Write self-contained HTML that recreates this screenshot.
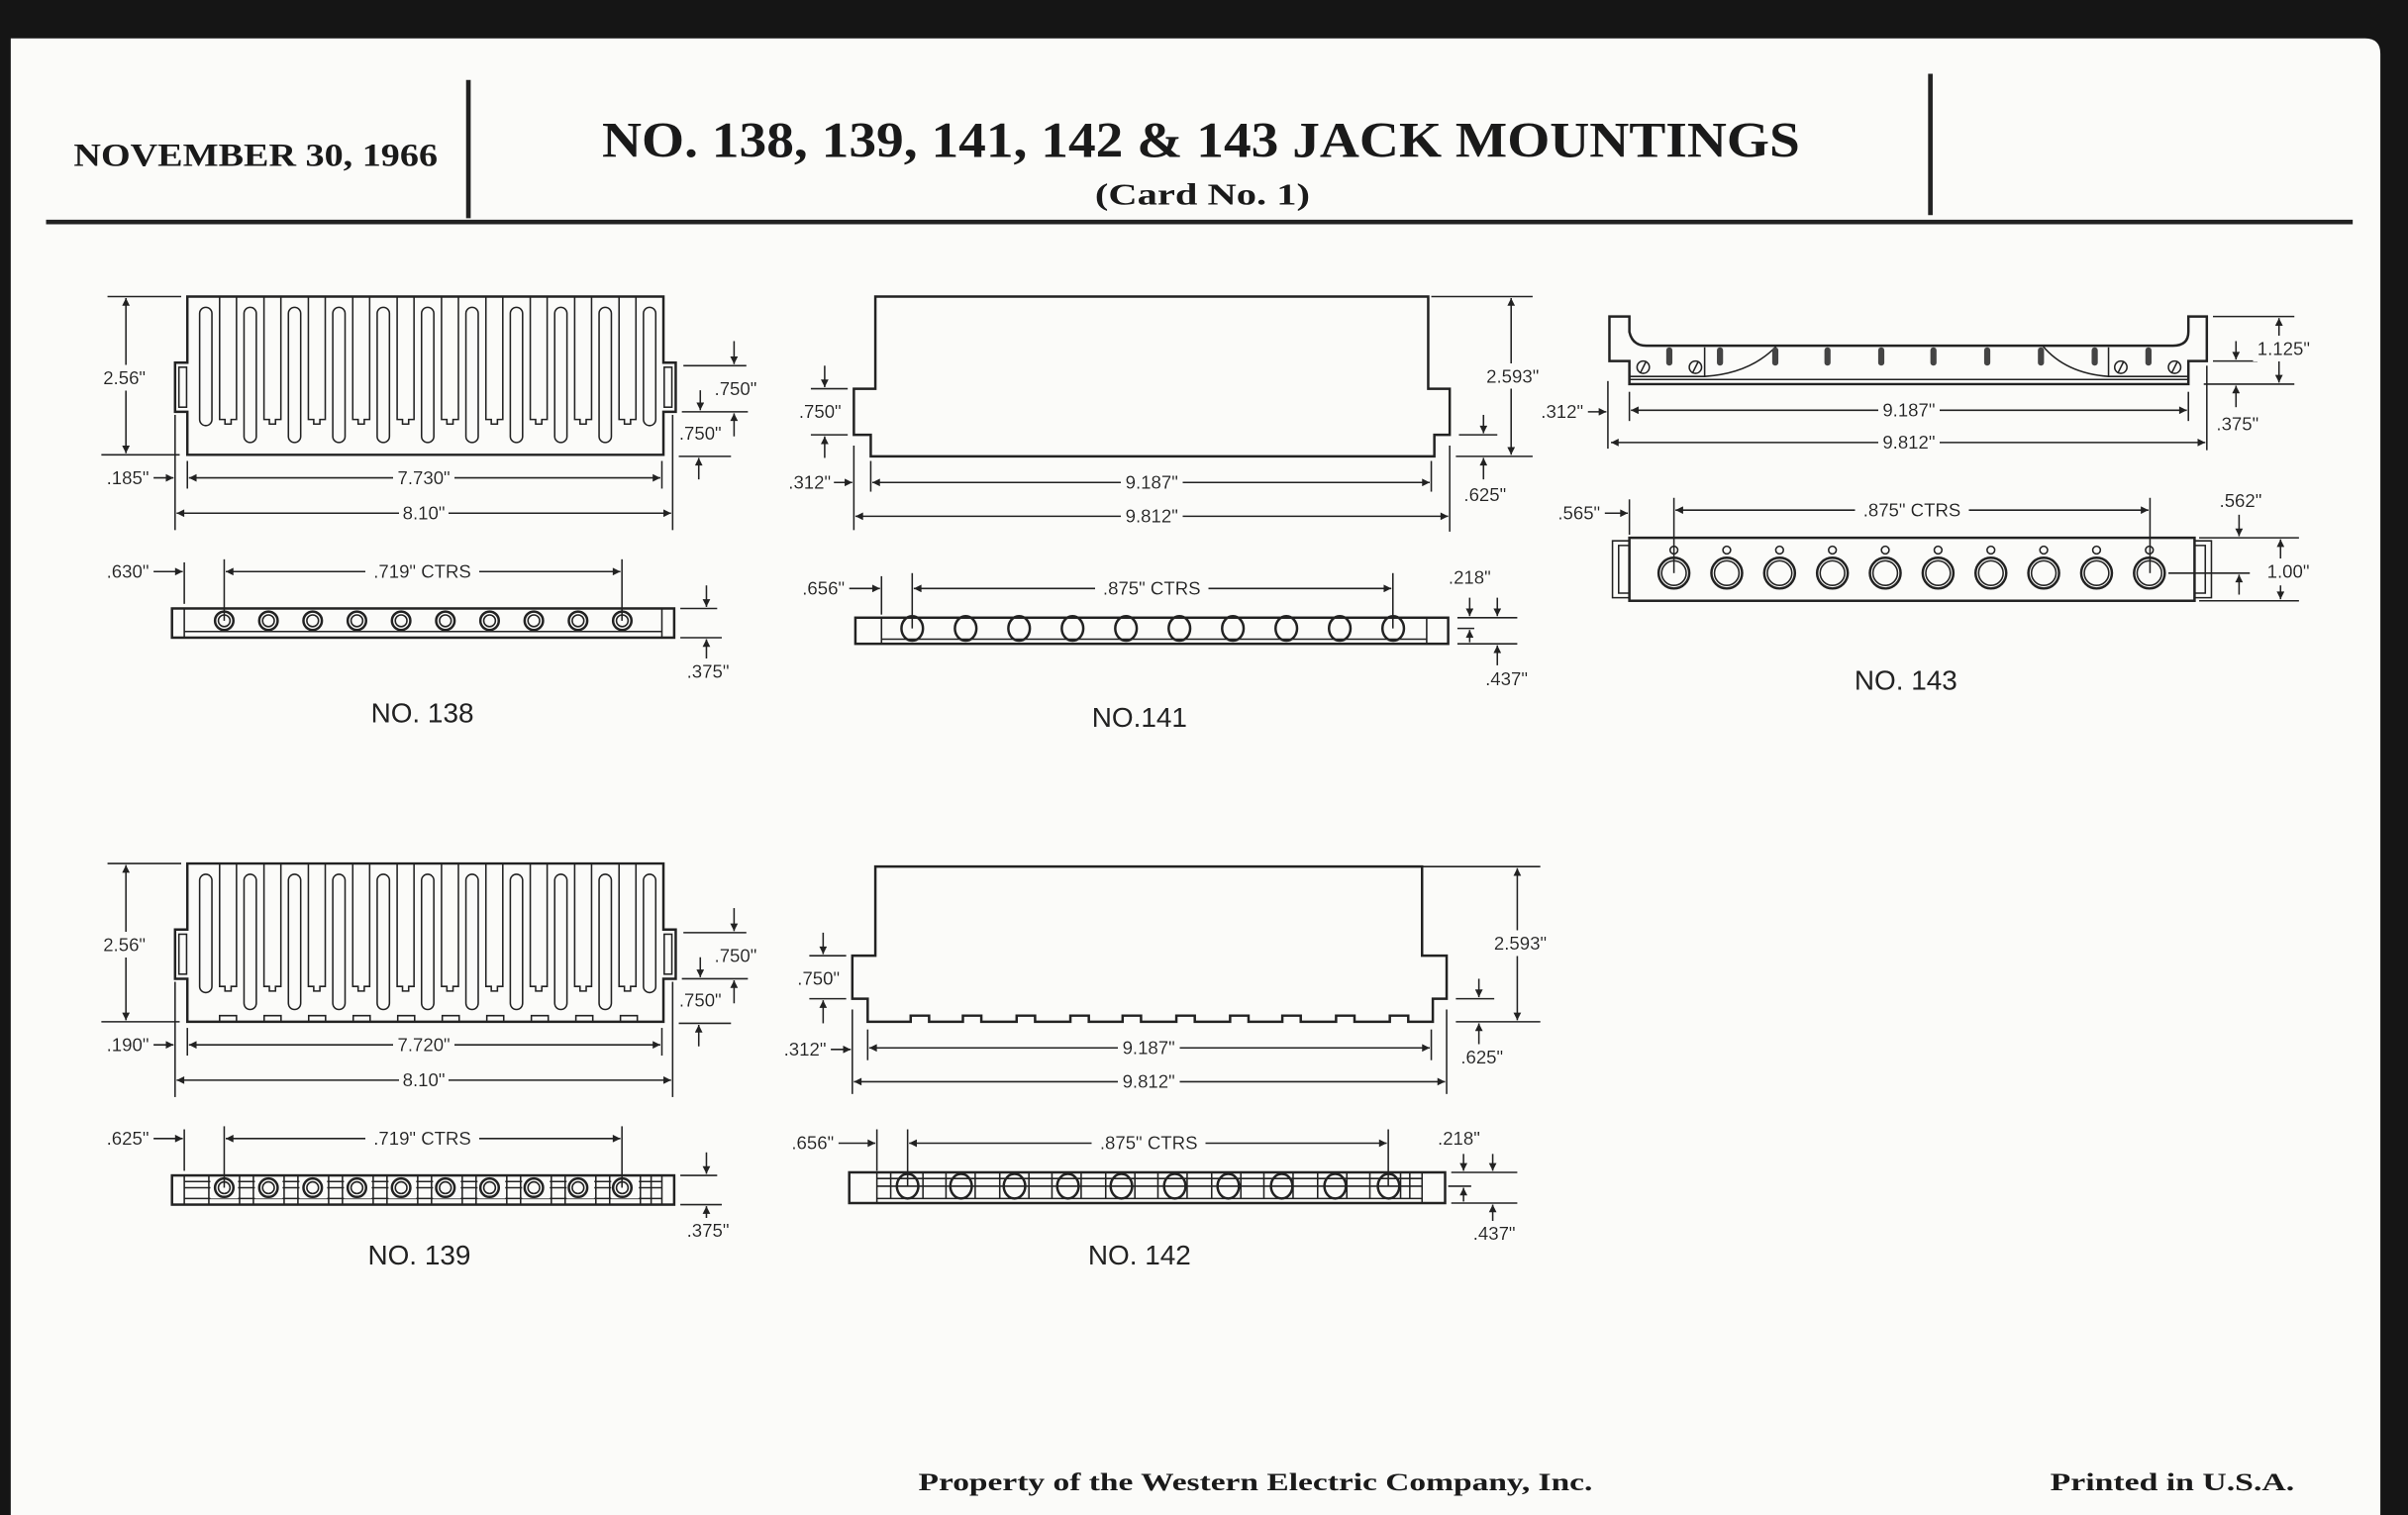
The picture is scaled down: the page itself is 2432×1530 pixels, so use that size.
<!DOCTYPE html>
<html><head><meta charset="utf-8"><style>
html,body{margin:0;padding:0;background:#1a1a1a;}
svg{display:block;}
.o{stroke:#222;stroke-width:1.6;fill:none;}
.t{stroke:#222;stroke-width:1;fill:none;}
.d{font-family:"Liberation Sans",sans-serif;font-size:12px;fill:#222;text-anchor:middle;filter:url(#bg);}
.n{font-family:"Liberation Sans",sans-serif;font-size:18px;fill:#222;text-anchor:middle;}
.h{font-family:"Liberation Serif",serif;font-weight:bold;fill:#1a1a1a;}
</style></head><body>
<svg width="2432" height="1530" viewBox="0 0 1568 986" preserveAspectRatio="none" xmlns="http://www.w3.org/2000/svg">
<defs>
<filter id="bg" x="-0.08" y="-0.1" width="1.16" height="1.2"><feFlood flood-color="#fbfbf9"/><feComposite in="SourceGraphic" operator="over"/></filter>
<marker id="a" viewBox="0 0 10 10" refX="10" refY="5" markerWidth="9" markerHeight="5" markerUnits="userSpaceOnUse" orient="auto-start-reverse"><path d="M0,0 L10,5 L0,10 z" fill="#222"/></marker>
<g id="fing">
<path class="o" d="M122,296 V268 H114 V236 H122 V193 H432 V236 H440 V268 H432 V296 Z"/>
<rect class="t" x="116.5" y="239" width="5" height="26"/><rect class="t" x="432.5" y="239" width="5" height="26"/>
<rect class="t" x="130" y="200" width="8" height="77" rx="4"/>
<rect class="t" x="158.9" y="200" width="8" height="88" rx="4"/>
<rect class="t" x="187.8" y="200" width="8" height="88" rx="4"/>
<rect class="t" x="216.7" y="200" width="8" height="88" rx="4"/>
<rect class="t" x="245.6" y="200" width="8" height="88" rx="4"/>
<rect class="t" x="274.5" y="200" width="8" height="88" rx="4"/>
<rect class="t" x="303.4" y="200" width="8" height="88" rx="4"/>
<rect class="t" x="332.3" y="200" width="8" height="88" rx="4"/>
<rect class="t" x="361.2" y="200" width="8" height="88" rx="4"/>
<rect class="t" x="390.1" y="200" width="8" height="88" rx="4"/>
<rect class="t" x="419" y="200" width="8" height="77" rx="4"/>
<path id="sl" class="t" d="M143,193 V273 H146.5 V276 H150.5 V273 H154 V193"/>
<use href="#sl" x="28.9"/><use href="#sl" x="57.8"/><use href="#sl" x="86.7"/><use href="#sl" x="115.6"/><use href="#sl" x="144.5"/><use href="#sl" x="173.4"/><use href="#sl" x="202.3"/><use href="#sl" x="231.2"/><use href="#sl" x="260.1"/>
</g>
<g id="h1"><circle cx="146" cy="404" r="6" class="o" stroke-width="2"/><circle cx="146" cy="404" r="3.8" class="t"/></g>
<g id="h2"><ellipse cx="594" cy="409" rx="7" ry="8" class="o" stroke-width="2"/></g>
<g id="h3"><circle cx="1090" cy="373" r="10" class="o" stroke-width="2"/><circle cx="1090" cy="373" r="8" class="t"/><circle cx="1090" cy="358" r="2.5" class="t"/></g>
<rect id="sp" x="-2" y="226" width="4" height="12" rx="2" fill="#444"/>
</defs>
<rect x="0" y="0" width="1568" height="986" fill="#151515"/>
<path d="M7,25 H1540 Q1550,25 1550,35 V986 H7 Z" fill="#fbfbf9"/>

<!-- header -->
<line x1="305" y1="52" x2="305" y2="142" stroke="#222" stroke-width="3"/>
<line x1="1257" y1="48" x2="1257" y2="140" stroke="#222" stroke-width="3"/>
<line x1="30" y1="144.5" x2="1532" y2="144.5" stroke="#222" stroke-width="3"/>
<text class="h" x="48" y="108" font-size="21" textLength="237" lengthAdjust="spacingAndGlyphs">NOVEMBER 30, 1966</text>
<text class="h" x="392" y="102" font-size="33" textLength="780" lengthAdjust="spacingAndGlyphs">NO. 138, 139, 141, 142 &amp; 143 JACK MOUNTINGS</text>
<text class="h" x="713" y="133" font-size="20" textLength="140" lengthAdjust="spacingAndGlyphs">(Card No. 1)</text>

<!-- NO.138 -->
<use href="#fing"/>
<line class="t" x1="70" y1="193" x2="118" y2="193"/><line class="t" x1="66" y1="296" x2="117" y2="296"/>
<line class="t" x1="82" y1="194" x2="82" y2="295" marker-start="url(#a)" marker-end="url(#a)"/>
<text class="d" x="81" y="250">2.56"</text>
<line class="t" x1="445" y1="238" x2="486" y2="238"/><line class="t" x1="444" y1="268" x2="487" y2="268"/><line class="t" x1="442" y1="297" x2="476" y2="297"/>
<line class="t" x1="478" y1="222" x2="478" y2="237" marker-end="url(#a)"/>
<line class="t" x1="456" y1="254" x2="456" y2="267" marker-end="url(#a)"/>
<line class="t" x1="478" y1="284" x2="478" y2="269" marker-end="url(#a)"/>
<line class="t" x1="455" y1="312" x2="455" y2="298" marker-end="url(#a)"/>
<text class="d" x="479" y="257">.750"</text><text class="d" x="456" y="286">.750"</text>
<line class="t" x1="114" y1="270" x2="114" y2="345"/><line class="t" x1="122" y1="300" x2="122" y2="318"/><line class="t" x1="431" y1="300" x2="431" y2="318"/><line class="t" x1="438" y1="270" x2="438" y2="345"/>
<text class="d" x="97" y="315" style="text-anchor:end">.185"</text>
<line class="t" x1="100" y1="311" x2="113" y2="311" marker-end="url(#a)"/>
<line class="t" x1="123" y1="311" x2="430" y2="311" marker-start="url(#a)" marker-end="url(#a)"/>
<text class="d" x="276" y="315">7.730"</text>
<line class="t" x1="115" y1="334" x2="437" y2="334" marker-start="url(#a)" marker-end="url(#a)"/>
<text class="d" x="276" y="338">8.10"</text>
<rect class="o" x="112" y="396" width="327" height="19"/>
<line class="t" x1="120" y1="396" x2="120" y2="415"/><line class="t" x1="431" y1="396" x2="431" y2="415"/><line class="t" x1="120" y1="411" x2="431" y2="411"/>
<use href="#h1"/><use href="#h1" x="28.8"/><use href="#h1" x="57.6"/><use href="#h1" x="86.4"/><use href="#h1" x="115.2"/><use href="#h1" x="144"/><use href="#h1" x="172.8"/><use href="#h1" x="201.6"/><use href="#h1" x="230.4"/><use href="#h1" x="259.2"/>
<text class="d" x="97" y="376" style="text-anchor:end">.630"</text>
<line class="t" x1="100" y1="372" x2="119" y2="372" marker-end="url(#a)"/>
<line class="t" x1="120" y1="366" x2="120" y2="393"/>
<line class="t" x1="146" y1="364" x2="146" y2="404"/><line class="t" x1="405" y1="364" x2="405" y2="404"/>
<line class="t" x1="147" y1="372" x2="404" y2="372" marker-start="url(#a)" marker-end="url(#a)"/>
<text class="d" x="275" y="376">.719" CTRS</text>
<line class="t" x1="443" y1="396" x2="467" y2="396"/><line class="t" x1="443" y1="415" x2="470" y2="415"/>
<line class="t" x1="460" y1="381" x2="460" y2="395" marker-end="url(#a)"/>
<line class="t" x1="460" y1="430" x2="460" y2="416" marker-end="url(#a)"/>
<text class="d" x="461" y="441">.375"</text>
<text class="n" x="275" y="470">NO. 138</text>

<!-- NO.139 -->
<g transform="translate(0,369)">
<use href="#fing"/>
<path class="t" d="M143,296 v-4 h11 v4 M172,296 v-4 h11 v4 M201,296 v-4 h11 v4 M230,296 v-4 h11 v4 M259,296 v-4 h11 v4 M288,296 v-4 h11 v4 M317,296 v-4 h11 v4 M346,296 v-4 h11 v4 M375,296 v-4 h11 v4 M404,296 v-4 h11 v4" fill="#fbfbf9"/>
<line class="t" x1="70" y1="193" x2="118" y2="193"/><line class="t" x1="66" y1="296" x2="117" y2="296"/>
<line class="t" x1="82" y1="194" x2="82" y2="295" marker-start="url(#a)" marker-end="url(#a)"/>
<text class="d" x="81" y="250">2.56"</text>
<line class="t" x1="445" y1="238" x2="486" y2="238"/><line class="t" x1="444" y1="268" x2="487" y2="268"/><line class="t" x1="442" y1="297" x2="476" y2="297"/>
<line class="t" x1="478" y1="222" x2="478" y2="237" marker-end="url(#a)"/>
<line class="t" x1="456" y1="254" x2="456" y2="267" marker-end="url(#a)"/>
<line class="t" x1="478" y1="284" x2="478" y2="269" marker-end="url(#a)"/>
<line class="t" x1="455" y1="312" x2="455" y2="298" marker-end="url(#a)"/>
<text class="d" x="479" y="257">.750"</text><text class="d" x="456" y="286">.750"</text>
<line class="t" x1="114" y1="270" x2="114" y2="345"/><line class="t" x1="122" y1="300" x2="122" y2="318"/><line class="t" x1="431" y1="300" x2="431" y2="318"/><line class="t" x1="438" y1="270" x2="438" y2="345"/>
<text class="d" x="97" y="315" style="text-anchor:end">.190"</text>
<line class="t" x1="100" y1="311" x2="113" y2="311" marker-end="url(#a)"/>
<line class="t" x1="123" y1="311" x2="430" y2="311" marker-start="url(#a)" marker-end="url(#a)"/>
<text class="d" x="276" y="315">7.720"</text>
<line class="t" x1="115" y1="334" x2="437" y2="334" marker-start="url(#a)" marker-end="url(#a)"/>
<text class="d" x="276" y="338">8.10"</text>
<rect class="o" x="112" y="396" width="327" height="19"/>
<line class="t" x1="120" y1="396" x2="120" y2="415"/><line class="t" x1="431" y1="396" x2="431" y2="415"/><line class="t" x1="120" y1="411" x2="431" y2="411"/>
<line class="t" x1="120" y1="404" x2="431" y2="404"/><line class="t" x1="120" y1="400" x2="431" y2="400"/>
<path class="t" d="M136,396v19 M156,396v19 M165,396v19 M185,396v19 M194,396v19 M214,396v19 M223,396v19 M243,396v19 M252,396v19 M272,396v19 M281,396v19 M301,396v19 M310,396v19 M330,396v19 M339,396v19 M359,396v19 M368,396v19 M388,396v19 M397,396v19 M417,396v19 M424,396v19"/>
<rect x="137" y="397" width="18" height="14" fill="#fbfbf9"/><rect x="166" y="397" width="18" height="14" fill="#fbfbf9"/><rect x="195" y="397" width="18" height="14" fill="#fbfbf9"/><rect x="224" y="397" width="18" height="14" fill="#fbfbf9"/><rect x="253" y="397" width="18" height="14" fill="#fbfbf9"/><rect x="282" y="397" width="18" height="14" fill="#fbfbf9"/><rect x="311" y="397" width="18" height="14" fill="#fbfbf9"/><rect x="340" y="397" width="18" height="14" fill="#fbfbf9"/><rect x="369" y="397" width="18" height="14" fill="#fbfbf9"/><rect x="398" y="397" width="18" height="14" fill="#fbfbf9"/>
<use href="#h1"/><use href="#h1" x="28.8"/><use href="#h1" x="57.6"/><use href="#h1" x="86.4"/><use href="#h1" x="115.2"/><use href="#h1" x="144"/><use href="#h1" x="172.8"/><use href="#h1" x="201.6"/><use href="#h1" x="230.4"/><use href="#h1" x="259.2"/>
<text class="d" x="97" y="376" style="text-anchor:end">.625"</text>
<line class="t" x1="100" y1="372" x2="119" y2="372" marker-end="url(#a)"/>
<line class="t" x1="120" y1="366" x2="120" y2="393"/>
<line class="t" x1="146" y1="364" x2="146" y2="404"/><line class="t" x1="405" y1="364" x2="405" y2="404"/>
<line class="t" x1="147" y1="372" x2="404" y2="372" marker-start="url(#a)" marker-end="url(#a)"/>
<text class="d" x="275" y="376">.719" CTRS</text>
<line class="t" x1="443" y1="396" x2="467" y2="396"/><line class="t" x1="443" y1="415" x2="470" y2="415"/>
<line class="t" x1="460" y1="381" x2="460" y2="395" marker-end="url(#a)"/>
<line class="t" x1="460" y1="430" x2="460" y2="416" marker-end="url(#a)"/>
<text class="d" x="461" y="436">.375"</text>
<text class="n" x="273" y="454">NO. 139</text>
</g>

<!-- NO.141 -->
<path class="o" d="M570,193 H930 V253 H944 V283 H934 V297 H567 V283 H556 V253 H570 Z"/>
<line class="t" x1="932" y1="193" x2="998" y2="193"/><line class="t" x1="948" y1="297" x2="998" y2="297"/>
<line class="t" x1="984" y1="194" x2="984" y2="296" marker-start="url(#a)" marker-end="url(#a)"/>
<text class="d" x="985" y="249">2.593"</text>
<line class="t" x1="528" y1="253" x2="552" y2="253"/><line class="t" x1="528" y1="283" x2="552" y2="283"/>
<line class="t" x1="537" y1="238" x2="537" y2="252" marker-end="url(#a)"/>
<line class="t" x1="537" y1="298" x2="537" y2="284" marker-end="url(#a)"/>
<text class="d" x="534" y="272">.750"</text>
<line class="t" x1="556" y1="290" x2="556" y2="345"/><line class="t" x1="567" y1="300" x2="567" y2="320"/><line class="t" x1="932" y1="300" x2="932" y2="320"/><line class="t" x1="944" y1="290" x2="944" y2="346"/>
<text class="d" x="541" y="318" style="text-anchor:end">.312"</text>
<line class="t" x1="543" y1="314" x2="555" y2="314" marker-end="url(#a)"/>
<line class="t" x1="568" y1="314" x2="931" y2="314" marker-start="url(#a)" marker-end="url(#a)"/>
<text class="d" x="750" y="318">9.187"</text>
<line class="t" x1="557" y1="336" x2="943" y2="336" marker-start="url(#a)" marker-end="url(#a)"/>
<text class="d" x="750" y="340">9.812"</text>
<line class="t" x1="950" y1="283" x2="975" y2="283"/>
<line class="t" x1="966" y1="270" x2="966" y2="282" marker-end="url(#a)"/>
<line class="t" x1="966" y1="312" x2="966" y2="298" marker-end="url(#a)"/>
<text class="d" x="967" y="326">.625"</text>
<rect class="o" x="557" y="402" width="386" height="17"/>
<line class="t" x1="574" y1="402" x2="574" y2="419"/><line class="t" x1="929" y1="402" x2="929" y2="419"/><line class="t" x1="574" y1="416" x2="929" y2="416" stroke-width="1.6"/>
<use href="#h2"/><use href="#h2" x="34.8"/><use href="#h2" x="69.6"/><use href="#h2" x="104.4"/><use href="#h2" x="139.2"/><use href="#h2" x="174"/><use href="#h2" x="208.8"/><use href="#h2" x="243.6"/><use href="#h2" x="278.4"/><use href="#h2" x="313.2"/>
<text class="d" x="550" y="387" style="text-anchor:end">.656"</text>
<line class="t" x1="553" y1="383" x2="573" y2="383" marker-end="url(#a)"/>
<line class="t" x1="574" y1="375" x2="574" y2="400"/>
<line class="t" x1="594" y1="373" x2="594" y2="409"/><line class="t" x1="907" y1="373" x2="907" y2="409"/>
<line class="t" x1="595" y1="383" x2="906" y2="383" marker-start="url(#a)" marker-end="url(#a)"/>
<text class="d" x="750" y="387">.875" CTRS</text>
<line class="t" x1="949" y1="402" x2="988" y2="402"/><line class="t" x1="949" y1="419" x2="988" y2="419"/><line class="t" x1="949" y1="409" x2="960" y2="409"/>
<line class="t" x1="957" y1="389" x2="957" y2="401" marker-end="url(#a)"/>
<line class="t" x1="975" y1="389" x2="975" y2="401" marker-end="url(#a)"/>
<line class="t" x1="957" y1="418" x2="957" y2="410" marker-end="url(#a)"/>
<line class="t" x1="975" y1="433" x2="975" y2="420" marker-end="url(#a)"/>
<text class="d" x="957" y="380">.218"</text>
<text class="d" x="981" y="446">.437"</text>
<text class="n" x="742" y="473">NO.141</text>

<!-- NO.142 -->
<path class="o" d="M570,564 H926 V622 H942 V650 H933 V665 H917 v-4 h-12 v4 H882 v-4 h-12 v4 H847 v-4 h-12 v4 H813 v-4 h-12 v4 H778 v-4 h-12 v4 H743 v-4 h-12 v4 H709 v-4 h-12 v4 H674 v-4 h-12 v4 H639 v-4 h-12 v4 H605 v-4 h-12 v4 H565 V650 H555 V622 H570 Z"/>
<line class="t" x1="926" y1="564" x2="1003" y2="564"/><line class="t" x1="948" y1="665" x2="1003" y2="665"/>
<line class="t" x1="988" y1="565" x2="988" y2="664" marker-start="url(#a)" marker-end="url(#a)"/>
<text class="d" x="990" y="618">2.593"</text>
<line class="t" x1="527" y1="622" x2="551" y2="622"/><line class="t" x1="527" y1="650" x2="551" y2="650"/>
<line class="t" x1="536" y1="607" x2="536" y2="621" marker-end="url(#a)"/>
<line class="t" x1="536" y1="666" x2="536" y2="651" marker-end="url(#a)"/>
<text class="d" x="533" y="641">.750"</text>
<line class="t" x1="555" y1="657" x2="555" y2="712"/><line class="t" x1="565" y1="670" x2="565" y2="690"/><line class="t" x1="932" y1="670" x2="932" y2="690"/><line class="t" x1="942" y1="657" x2="942" y2="712"/>
<text class="d" x="538" y="687" style="text-anchor:end">.312"</text>
<line class="t" x1="541" y1="683" x2="554" y2="683" marker-end="url(#a)"/>
<line class="t" x1="566" y1="682" x2="931" y2="682" marker-start="url(#a)" marker-end="url(#a)"/>
<text class="d" x="748" y="686">9.187"</text>
<line class="t" x1="556" y1="704" x2="941" y2="704" marker-start="url(#a)" marker-end="url(#a)"/>
<text class="d" x="748" y="708">9.812"</text>
<line class="t" x1="948" y1="650" x2="973" y2="650"/>
<line class="t" x1="963" y1="637" x2="963" y2="649" marker-end="url(#a)"/>
<line class="t" x1="963" y1="680" x2="963" y2="666" marker-end="url(#a)"/>
<text class="d" x="965" y="692">.625"</text>
<rect class="o" x="553" y="763" width="388" height="20"/>
<line class="t" x1="571" y1="763" x2="571" y2="783"/><line class="t" x1="926" y1="763" x2="926" y2="783"/><line class="t" x1="571" y1="780" x2="926" y2="780" stroke-width="1.6"/>
<line class="t" x1="571" y1="772" x2="926" y2="772"/><line class="t" x1="571" y1="767" x2="926" y2="767"/>
<path class="t" d="M580,763v17 M601,763v17 M616,763v17 M635,763v17 M651,763v17 M670,763v17 M685,763v17 M704,763v17 M720,763v17 M739,763v17 M754,763v17 M773,763v17 M789,763v17 M808,763v17 M823,763v17 M842,763v17 M858,763v17 M877,763v17 M892,763v17 M912,763v17 M918,763v17"/>
<g transform="translate(-3,363)"><use href="#h2"/><use href="#h2" x="34.8"/><use href="#h2" x="69.6"/><use href="#h2" x="104.4"/><use href="#h2" x="139.2"/><use href="#h2" x="174"/><use href="#h2" x="208.8"/><use href="#h2" x="243.6"/><use href="#h2" x="278.4"/><use href="#h2" x="313.2"/></g>
<text class="d" x="543" y="748" style="text-anchor:end">.656"</text>
<line class="t" x1="546" y1="744" x2="570" y2="744" marker-end="url(#a)"/>
<line class="t" x1="571" y1="735" x2="571" y2="762"/>
<line class="t" x1="591" y1="735" x2="591" y2="772"/><line class="t" x1="904" y1="735" x2="904" y2="772"/>
<line class="t" x1="592" y1="744" x2="903" y2="744" marker-start="url(#a)" marker-end="url(#a)"/>
<text class="d" x="748" y="748">.875" CTRS</text>
<line class="t" x1="945" y1="763" x2="988" y2="763"/><line class="t" x1="945" y1="783" x2="988" y2="783"/><line class="t" x1="943" y1="772" x2="958" y2="772"/>
<line class="t" x1="953" y1="751" x2="953" y2="762" marker-end="url(#a)"/>
<line class="t" x1="972" y1="751" x2="972" y2="762" marker-end="url(#a)"/>
<line class="t" x1="953" y1="782" x2="953" y2="773" marker-end="url(#a)"/>
<line class="t" x1="972" y1="796" x2="972" y2="784" marker-end="url(#a)"/>
<text class="d" x="950" y="745">.218"</text>
<text class="d" x="973" y="807">.437"</text>
<text class="n" x="742" y="823">NO. 142</text>

<!-- NO.143 -->
<path class="o" d="M1048,206 H1061 V216 Q1063,225 1072,225 H1415 Q1425,225 1425,216 V206 H1437 V235 H1425 V250 H1061 V235 H1048 Z"/>
<line class="t" x1="1061" y1="247" x2="1425" y2="247"/>
<path class="t" d="M1061,245 H1110 V226 M1425,245 H1373 V226 M1110,245 Q1140,243 1157,225 M1330,225 Q1345,243 1373,245"/>
<circle class="t" cx="1070" cy="239" r="4"/><circle class="t" cx="1104" cy="239" r="4"/><circle class="t" cx="1381" cy="239" r="4"/><circle class="t" cx="1416" cy="239" r="4"/>
<path class="t" d="M1068,243 l4,-8 M1102,243 l4,-8 M1379,243 l4,-8 M1414,243 l4,-8"/>
<use href="#sp" x="1087"/><use href="#sp" x="1120"/><use href="#sp" x="1156"/><use href="#sp" x="1190"/><use href="#sp" x="1225"/><use href="#sp" x="1259"/><use href="#sp" x="1294"/><use href="#sp" x="1329"/><use href="#sp" x="1364"/><use href="#sp" x="1399"/>
<line class="t" x1="1441" y1="206" x2="1494" y2="206"/><line class="t" x1="1441" y1="235" x2="1470" y2="235"/><line class="t" x1="1435" y1="250" x2="1494" y2="250"/>
<line class="t" x1="1484" y1="207" x2="1484" y2="249" marker-start="url(#a)" marker-end="url(#a)"/>
<text class="d" x="1487" y="231">1.125"</text>
<line class="t" x1="1456" y1="222" x2="1456" y2="234" marker-end="url(#a)"/>
<line class="t" x1="1456" y1="265" x2="1456" y2="251" marker-end="url(#a)"/>
<text class="d" x="1457" y="280">.375"</text>
<line class="t" x1="1047" y1="248" x2="1047" y2="292"/><line class="t" x1="1061" y1="255" x2="1061" y2="274"/><line class="t" x1="1425" y1="255" x2="1425" y2="274"/><line class="t" x1="1437" y1="238" x2="1437" y2="293"/>
<text class="d" x="1031" y="272" style="text-anchor:end">.312"</text>
<line class="t" x1="1034" y1="268" x2="1046" y2="268" marker-end="url(#a)"/>
<line class="t" x1="1062" y1="267" x2="1424" y2="267" marker-start="url(#a)" marker-end="url(#a)"/>
<text class="d" x="1243" y="271">9.187"</text>
<line class="t" x1="1049" y1="288" x2="1436" y2="288" marker-start="url(#a)" marker-end="url(#a)"/>
<text class="d" x="1243" y="292">9.812"</text>
<rect class="o" x="1061" y="350" width="368" height="41"/>
<path class="t" d="M1061,352 H1050 V389 H1061 M1061,355 H1054 V386 H1061 M1429,352 H1440 V389 H1429 M1429,355 H1436 V386 H1429"/>
<use href="#h3"/><use href="#h3" x="34.4"/><use href="#h3" x="68.8"/><use href="#h3" x="103.2"/><use href="#h3" x="137.6"/><use href="#h3" x="172"/><use href="#h3" x="206.4"/><use href="#h3" x="240.8"/><use href="#h3" x="275.2"/><use href="#h3" x="309.6"/>
<text class="d" x="1042" y="338" style="text-anchor:end">.565"</text>
<line class="t" x1="1045" y1="334" x2="1060" y2="334" marker-end="url(#a)"/>
<line class="t" x1="1061" y1="325" x2="1061" y2="348"/>
<line class="t" x1="1090" y1="324" x2="1090" y2="373"/><line class="t" x1="1400" y1="324" x2="1400" y2="373"/>
<line class="t" x1="1091" y1="332" x2="1399" y2="332" marker-start="url(#a)" marker-end="url(#a)"/>
<text class="d" x="1245" y="336">.875" CTRS</text>
<line class="t" x1="1432" y1="350" x2="1497" y2="350"/><line class="t" x1="1412" y1="373" x2="1465" y2="373"/><line class="t" x1="1432" y1="391" x2="1497" y2="391"/>
<line class="t" x1="1458" y1="335" x2="1458" y2="349" marker-end="url(#a)"/>
<line class="t" x1="1458" y1="387" x2="1458" y2="374" marker-end="url(#a)"/>
<line class="t" x1="1485" y1="364" x2="1485" y2="351" marker-end="url(#a)"/>
<line class="t" x1="1485" y1="381" x2="1485" y2="390" marker-end="url(#a)"/>
<text class="d" x="1459" y="330">.562"</text>
<text class="d" x="1490" y="376">1.00"</text>
<text class="n" x="1241" y="449">NO. 143</text>

<!-- footer -->
<text class="h" x="598" y="970" font-size="16" textLength="439" lengthAdjust="spacingAndGlyphs">Property of the Western Electric Company, Inc.</text>
<text class="h" x="1335" y="970" font-size="16" textLength="159" lengthAdjust="spacingAndGlyphs">Printed in U.S.A.</text>
</svg>
</body></html>
